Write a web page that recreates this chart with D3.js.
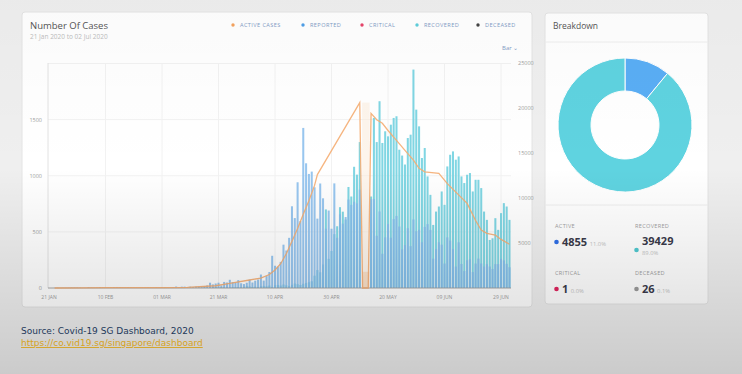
<!DOCTYPE html>
<html><head><meta charset="utf-8">
<script src="https://cdn.jsdelivr.net/npm/d3@7"></script>
<style>
html,body{margin:0;padding:0;background:#efefef;}
svg{display:block;font-family:"Open Sans","Noto Sans",sans-serif;}
</style></head><body>
<svg id="c" width="742" height="374"></svg>
<script>
// ---------------- DATA ----------------
const firstDate = "2020-01-21";
const lastDate = "2020-07-02";
// daily reported cases (left axis); null = no data (11-13 May)
const reported = [
  0,0,1,2,0,1,1,2,3,3,3,
  2,0,0,6,4,2,3,7,3,2,2,3,8,9,9,3,2,4,3,1,1,3,0,1,1,2,0,3,4,
  4,2,2,2,7,13,8,12,12,6,12,9,13,12,14,17,23,47,32,40,47,23,54,49,73,52,49,70,42,35,47,
  74,49,65,75,120,66,106,142,287,198,191,233,386,334,447,728,623,942,596,
  1426,1111,1016,1037,897,618,931,799,528,690,528,
  932,447,657,573,632,788,741,768,753,876,
  null,null,null,
  792,793,465,682,305,451,570,448,614,642,548,344,383,533,373,611,506,518,
  408,544,569,517,261,347,407,386,218,451,422,347,191,407,214,151,247,256,142,218,262,218,191,213,191,169,213,213,260,246,
  215,185
];
// daily recovered (left axis)
const recovered = [
  0,0,0,0,0,0,0,0,0,0,0,
  0,0,0,1,0,1,0,0,0,0,2,2,1,4,1,3,2,3,2,1,1,0,2,1,4,1,2,3,1,
  2,4,3,2,1,3,0,1,2,6,4,3,2,5,1,4,3,2,7,9,4,8,6,5,3,7,8,9,6,11,17,
  14,10,12,9,16,19,15,22,10,26,28,22,31,24,18,29,40,34,27,
  38,45,52,60,110,160,140,210,700,260,330,
  480,550,720,680,610,900,815,1080,1010,1300,
  null,null,null,
  815,1515,1300,1664,1292,1396,1351,1455,1515,1530,1232,1180,1100,1336,1366,1946,1589,1440,
  1158,1247,994,830,562,681,726,860,741,1083,1187,1217,1143,1172,994,935,1009,1024,860,964,964,890,681,607,428,443,622,518,667,756,
  726,607
];
// active cases (right axis)
const activeDates = ["2020-01-23","2020-02-01","2020-02-10","2020-02-20","2020-03-01","2020-03-10","2020-03-20","2020-03-25",
  "2020-04-01","2020-04-05","2020-04-08","2020-04-10","2020-04-12","2020-04-14","2020-04-16","2020-04-18","2020-04-20",
  "2020-04-22","2020-04-24","2020-04-25","2020-05-10","2020-05-11","2020-05-13","2020-05-14","2020-05-16","2020-05-18",
  "2020-05-20","2020-05-23","2020-05-26","2020-05-29","2020-05-31","2020-06-02","2020-06-07","2020-06-10","2020-06-17",
  "2020-06-20","2020-06-22","2020-06-24","2020-06-27","2020-06-29","2020-07-02"];
const activeValues = [1,16,40,50,45,80,250,520,
  890,1100,1500,2000,2700,3800,5200,6600,8200,
  9700,11400,12600,20600,0,0,19400,18700,18300,
  17500,16400,15300,14200,13300,12900,12750,11600,9400,
  7500,6440,6080,5890,5400,4855];
const gapDates = ["2020-05-11","2020-05-12","2020-05-13"];
const xTickDates = ["2020-01-21","2020-02-10","2020-03-01","2020-03-21","2020-04-10","2020-04-30","2020-05-20","2020-06-09","2020-06-29"];
const xTickLabels = ["21 JAN","10 FEB","01 MAR","21 MAR","10 APR","30 APR","20 MAY","09 JUN","29 JUN"];
const leftTicks = [0,500,1000,1500];
const rightTicks = [5000,10000,15000,20000,25000];
const legendNames = ["ACTIVE CASES","REPORTED","CRITICAL","RECOVERED","DECEASED"];
const legendColors = ["#f5a35f","#4f9fe8","#e8456b","#5fcfdc","#444444"];
const breakdownNames = ["ACTIVE","RECOVERED","CRITICAL","DECEASED"];
const breakdownValues = [4855,39429,1,26];
const breakdownPct = ["11.0%","89.0%","0.0%","0.1%"];
const breakdownColors = ["#2f6fe6","#4fc8cf","#e0245e","#9a9a9a"];
const donutColors = ["#5aaef5","#5fd3e0"];

// ---------------- DRAW ----------------
const svg = d3.select("#c");
const parse = d3.timeParse("%Y-%m-%d");
const fmt = d3.timeFormat("%Y-%m-%d");
const days = d3.timeDay.range(parse(firstDate), d3.timeDay.offset(parse(lastDate),1)).map(fmt);

// cards
svg.append("rect").attr("x",22).attr("y",12).attr("width",510).attr("height",295).attr("rx",3)
  .attr("fill","#ffffff").attr("stroke","#e4e4e4");
svg.append("rect").attr("x",545).attr("y",13).attr("width",163).attr("height",291).attr("rx",3)
  .attr("fill","#ffffff").attr("stroke","#e4e4e4");
svg.append("line").attr("x1",545).attr("x2",708).attr("y1",42).attr("y2",42).attr("stroke","#eeeeee");
svg.append("line").attr("x1",545).attr("x2",708).attr("y1",205).attr("y2",205).attr("stroke","#eeeeee");

// titles
svg.append("text").attr("x",30).attr("y",29).text("Number Of Cases")
  .attr("font-size",9.5).attr("fill","#555");
svg.append("text").attr("x",30).attr("y",39).text("21 Jan 2020 to 02 Jul 2020")
  .attr("font-size",6.5).attr("fill","#bdbdbd");
svg.append("text").attr("x",553).attr("y",29).text("Breakdown")
  .attr("font-size",8.5).attr("fill","#555");

// legend
const legX = [233,303,362,417,478];
legendNames.forEach((n,i)=>{
  svg.append("circle").attr("cx",legX[i]).attr("cy",25).attr("r",1.7).attr("fill",legendColors[i]);
  svg.append("text").attr("x",legX[i]+7).attr("y",27).text(n)
    .attr("font-size",5.6).attr("letter-spacing",0.4).attr("fill","#7f9cc6");
});
svg.append("text").attr("x",502).attr("y",50).text("Bar \u2304")
  .attr("font-size",6).attr("fill","#7f9cc6");

// scales
const x = d3.scaleBand().domain(days).range([47.6,510.9]).paddingInner(0.28).paddingOuter(0.14);
const yL = d3.scaleLinear().domain([0,2000]).range([288,63.5]);
const yR = d3.scaleLinear().domain([0,25000]).range([288,63]);
const cx = d => x(d) + x.bandwidth()/2;

// grid
const g = svg.append("g");
g.selectAll(".hg").data(leftTicks.concat([2000])).join("line")
  .attr("x1",48).attr("x2",511).attr("y1",d=>yL(d)).attr("y2",d=>yL(d))
  .attr("stroke","#f2f2f2");
g.selectAll(".vg").data(xTickDates.slice(1)).join("line")
  .attr("x1",d=>cx(d)).attr("x2",d=>cx(d)).attr("y1",63).attr("y2",288).attr("stroke","#f2f2f2");
g.append("line").attr("x1",48).attr("x2",48).attr("y1",63).attr("y2",288).attr("stroke","#e2e2e2");

// gap highlight
const gx0 = x(gapDates[0]) - x.step()*x.paddingInner()/2;
const gx1 = x(gapDates[gapDates.length-1]) + x.bandwidth() + x.step()*x.paddingInner()/2;
svg.append("rect").attr("x",gx0+1).attr("y",yR(20600)).attr("width",gx1-gx0-1).attr("height",288-yR(20600))
  .attr("fill","#fcebd9").attr("opacity",0.5);
svg.append("rect").attr("x",gx0+1.5).attr("y",yR(1800)).attr("width",gx1-gx0-2).attr("height",288-yR(1800))
  .attr("fill","#f9dcc0").attr("opacity",0.8);

// bars
const recData = days.map((d,i)=>({d, v:recovered[i]})).filter(o=>o.v!=null);
const repData = days.map((d,i)=>({d, v:reported[i]})).filter(o=>o.v!=null);
svg.append("g").selectAll("rect").data(recData).join("rect")
  .attr("x",o=>x(o.d)).attr("width",x.bandwidth())
  .attr("y",o=>yL(o.v)).attr("height",o=>288-yL(o.v)).attr("fill","#80d6e3");
svg.append("g").selectAll("rect").data(repData).join("rect")
  .attr("x",o=>x(o.d)).attr("width",x.bandwidth())
  .attr("y",o=>yL(o.v)).attr("height",o=>288-yL(o.v)).attr("fill","#86bcec").attr("opacity",0.85);

// baseline
svg.append("line").attr("x1",48).attr("x2",511).attr("y1",288).attr("y2",288).attr("stroke","#9a9a9a").attr("stroke-width",0.8);

// active line
const act = activeDates.map((d,i)=>({d, v:activeValues[i]}));
svg.append("path").datum(act)
  .attr("d", d3.line().x(o=>cx(o.d)).y(o=>yR(o.v)))
  .attr("fill","none").attr("stroke","#f5ad72").attr("stroke-width",1.3).attr("opacity",0.9);

// axes labels
svg.append("g").selectAll("text").data(leftTicks).join("text")
  .attr("x",42).attr("y",d=>yL(d)+2).attr("text-anchor","end").text(d=>d)
  .attr("font-size",5.5).attr("fill","#9e9e9e");
svg.append("g").selectAll("text").data(rightTicks).join("text")
  .attr("x",518).attr("y",d=>yR(d)+2).text(d=>d)
  .attr("font-size",5.5).attr("fill","#9e9e9e");
svg.append("g").selectAll("text").data(xTickDates).join("text")
  .attr("x",d=>cx(d)).attr("y",299).attr("text-anchor","middle").text((d,i)=>xTickLabels[i])
  .attr("font-size",5).attr("fill","#9e9e9e");

// donut
const pie = d3.pie().sort(null).value(d=>d);
const arc = d3.arc().innerRadius(34).outerRadius(67);
svg.append("g").attr("transform","translate(625,125)")
  .selectAll("path").data(pie(breakdownValues.slice(0,2))).join("path")
  .attr("d",arc).attr("fill",(d,i)=>donutColors[i]).attr("stroke","#fff").attr("stroke-width",1);

// breakdown stats
const bx = [555,635], by = [226,273];
breakdownNames.forEach((n,i)=>{
  const X = bx[i%2], Y = by[Math.floor(i/2)];
  svg.append("text").attr("x",X).attr("y",Y+2).text(n).attr("font-size",5.6).attr("letter-spacing",0.3).attr("fill","#a0a0a0");
  if (n==="RECOVERED") {
    svg.append("circle").attr("cx",X+1.5).attr("cy",Y+24).attr("r",2.3).attr("fill",breakdownColors[i]);
    svg.append("text").attr("x",X+7).attr("y",Y+19).text(breakdownValues[i]).attr("font-size",11).attr("font-weight","bold").attr("fill","#3a3a4a");
    svg.append("text").attr("x",X+7).attr("y",Y+29).text(breakdownPct[i]).attr("font-size",5.8).attr("fill","#c4c4c4");
  } else {
    svg.append("circle").attr("cx",X+1.5).attr("cy",Y+16).attr("r",2.3).attr("fill",breakdownColors[i]);
    const t = svg.append("text").attr("x",X+7).attr("y",Y+20).attr("fill","#3a3a4a");
    t.append("tspan").text(breakdownValues[i]).attr("font-size",11).attr("font-weight","bold");
    t.append("tspan").text(" "+breakdownPct[i]).attr("font-size",5.8).attr("fill","#c4c4c4").attr("dx",1);
  }
});

// vignette
const defs = svg.append("defs");
const lg = defs.append("linearGradient").attr("id","vg").attr("x1",0).attr("x2",0).attr("y1",0).attr("y2",1);
lg.append("stop").attr("offset","0%").attr("stop-color","#000").attr("stop-opacity",0.02);
lg.append("stop").attr("offset","45%").attr("stop-color","#000").attr("stop-opacity",0);
lg.append("stop").attr("offset","100%").attr("stop-color","#000").attr("stop-opacity",0.15);
svg.append("rect").attr("width",742).attr("height",374).attr("fill","url(#vg)").attr("pointer-events","none");

// source
svg.append("text").attr("x",21).attr("y",334).text("Source: Covid-19 SG Dashboard, 2020")
  .attr("font-family","'DejaVu Sans',sans-serif").attr("font-size",9).attr("fill","#22385a");
svg.append("text").attr("x",21).attr("y",346).text("https://co.vid19.sg/singapore/dashboard")
  .attr("font-family","'DejaVu Sans',sans-serif").attr("font-size",9).attr("fill","#d6a21e")
  .attr("text-decoration","underline");
</script>
</body></html>
